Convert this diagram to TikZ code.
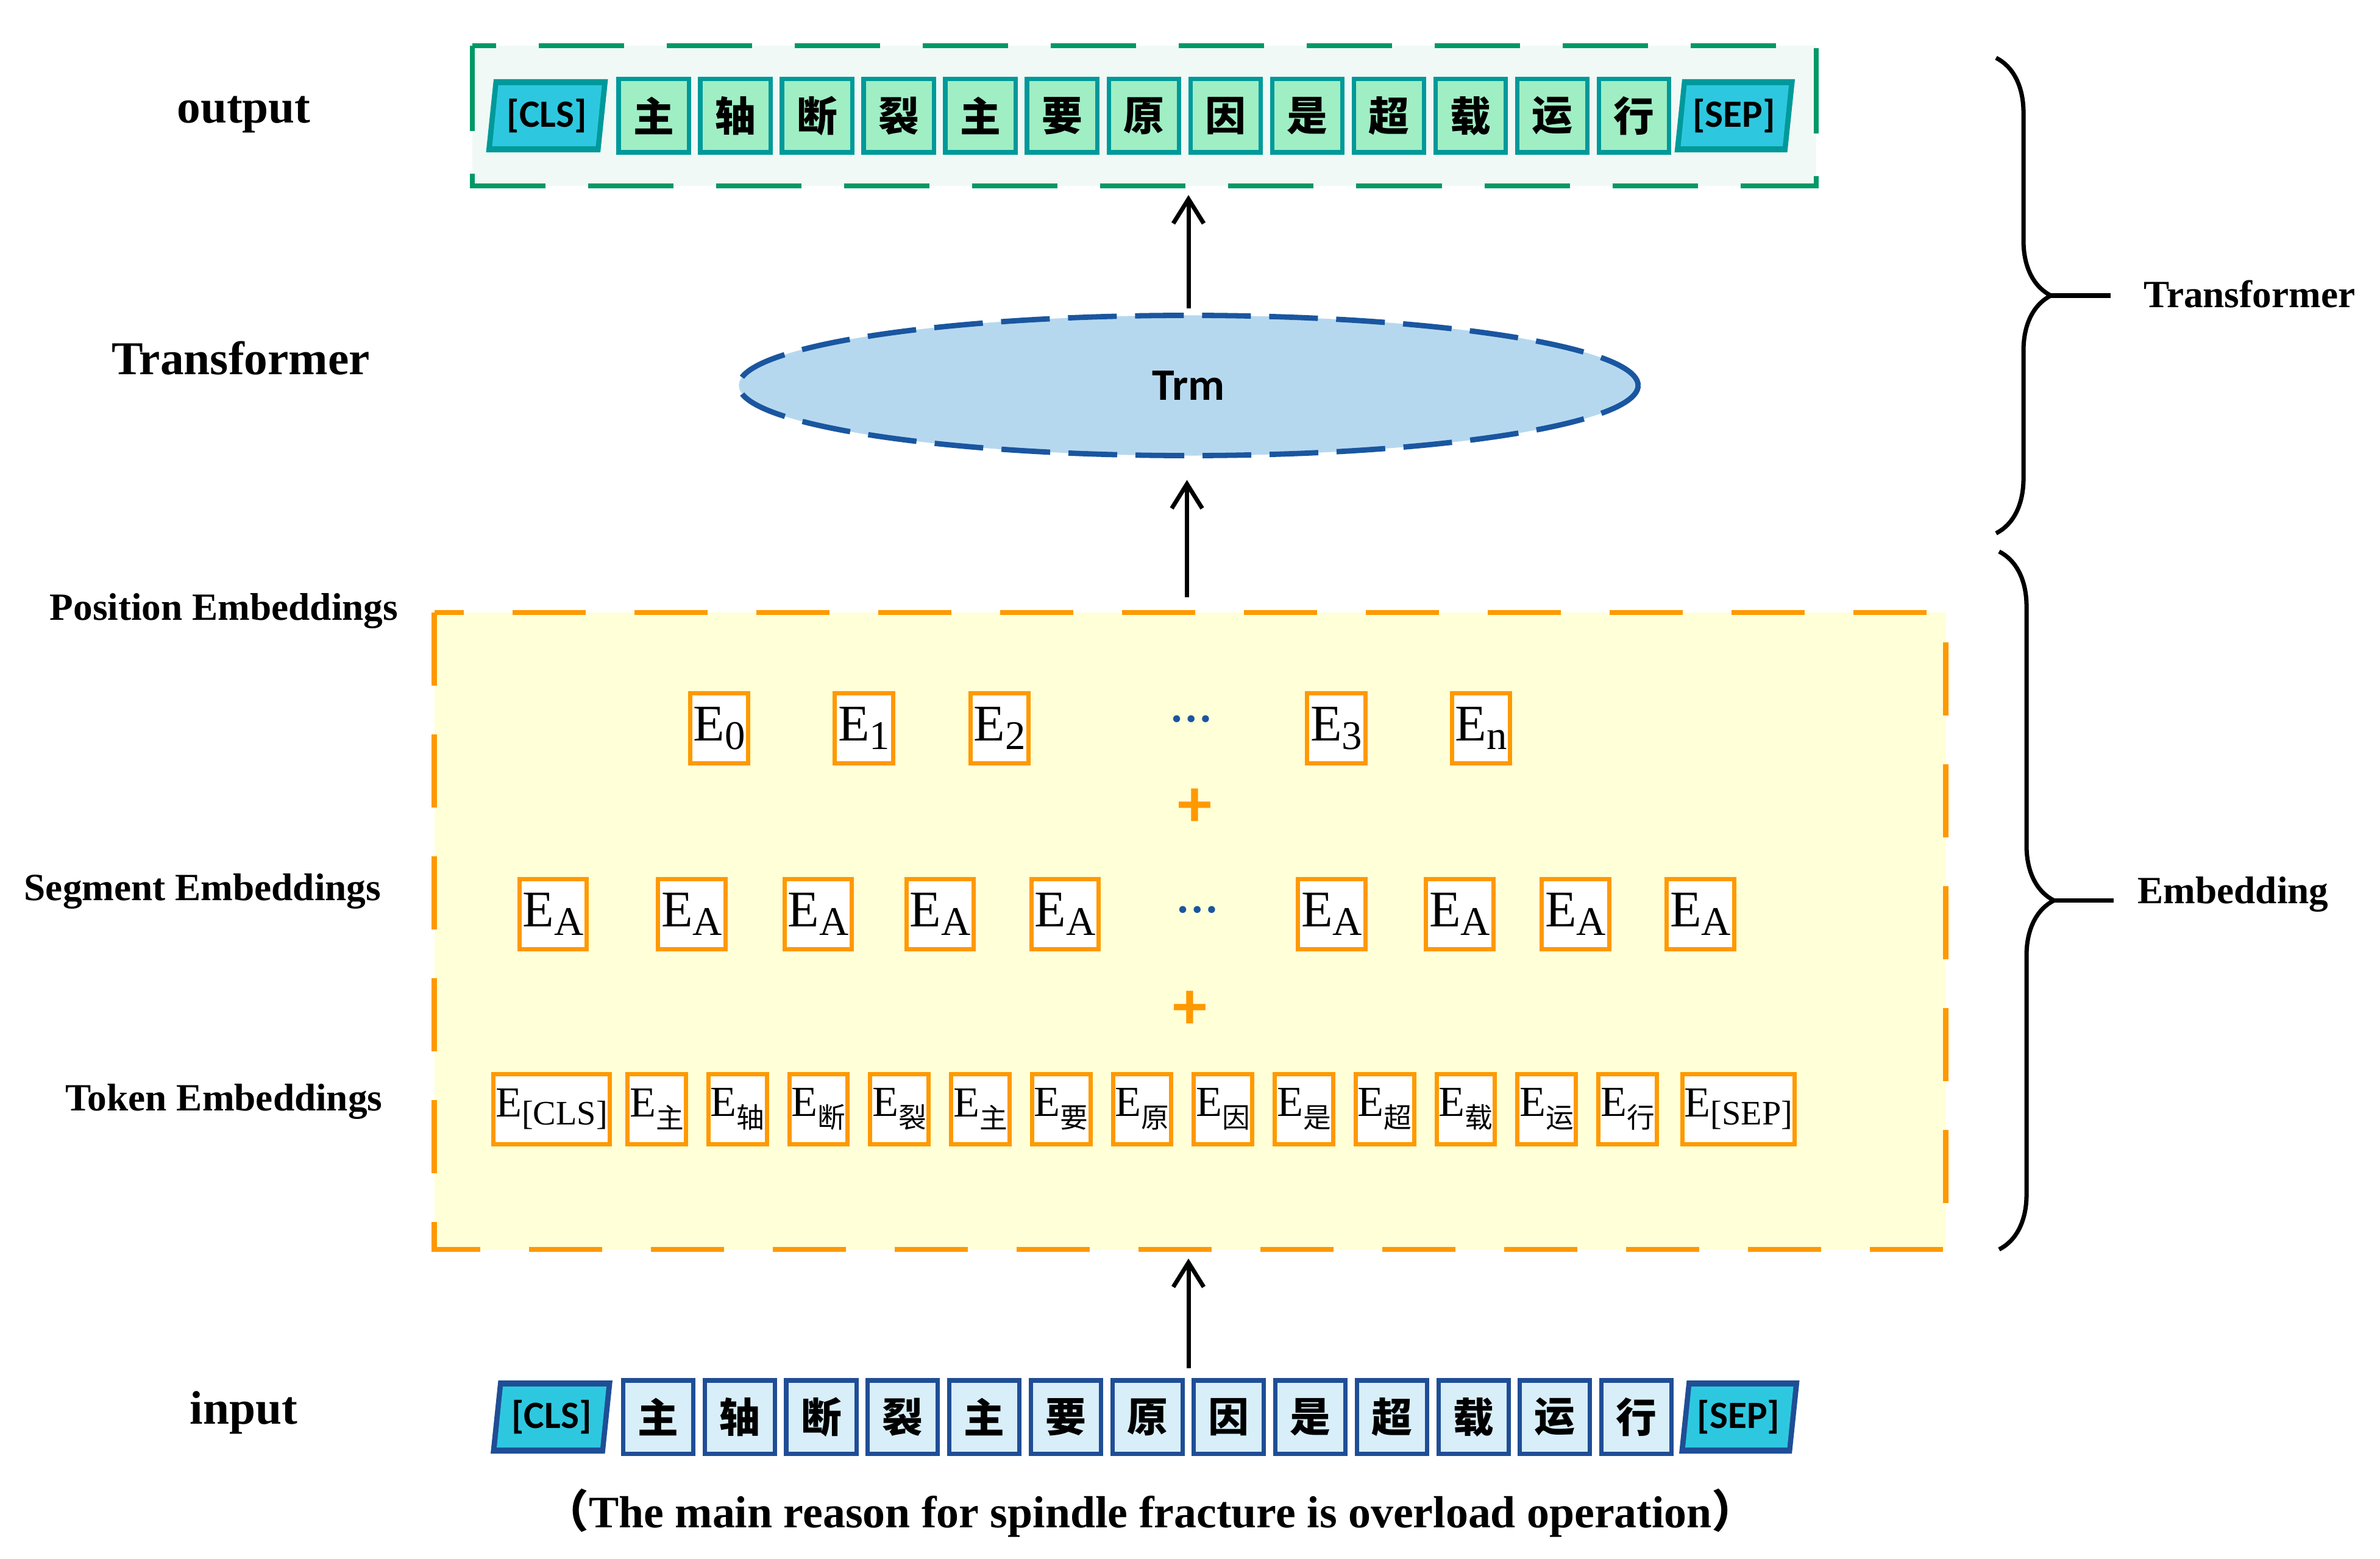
\documentclass[tikz,border=0pt]{standalone}
\usepackage{fontspec}
\setmainfont{Liberation Serif}
\newfontfamily\sansb{Carlito}[BoldFont=Carlito Bold]
\newfontfamily\cjk{Noto Sans CJK SC}
\usetikzlibrary{arrows.meta, positioning, shapes.geometric, decorations.pathreplacing}
\definecolor{dgreen}{HTML}{009966}
\definecolor{lgreen}{HTML}{A0EEC4}
\definecolor{teal}{HTML}{00999A}
\definecolor{cyanbox}{HTML}{2DC8E0}
\definecolor{navy}{HTML}{1F4E96}
\definecolor{lblue}{HTML}{D8EEF9}
\definecolor{orng}{HTML}{FF9900}
\definecolor{lyellow}{HTML}{FFFFD8}
\definecolor{ellfill}{HTML}{B6D8EF}
\definecolor{elldraw}{HTML}{1A56A0}
\begin{document}
\begin{tikzpicture}[x=0.025cm, y=-0.025cm,
    lab/.style={font=\fontsize{22}{24}\selectfont\bfseries},
    side/.style={font=\fontsize{18}{20}\selectfont\bfseries},
    outbox/.style={draw=teal, line width=2pt, fill=lgreen, minimum width=1.15cm, minimum height=1.2cm, inner sep=0pt, font=\fontsize{19}{20}\selectfont\cjk\bfseries},
    inbox/.style={outbox, draw=navy, fill=lblue},
    spec/.style={font=\fontsize{18}{19}\selectfont\sansb\bfseries},
    emb/.style={draw=orng, line width=2pt, fill=white, inner sep=1.5pt, minimum height=1.15cm},
    arr/.style={-{Straight Barb[length=4mm, width=5mm]}, line width=2pt}]
  \useasboundingbox (0,0) rectangle (1562,1023);

  % output
  \node[lab] (outlab) at (160,75) {output};
  \draw[dgreen, fill=dgreen!6, line width=2.5pt, dash pattern=on 14mm off 7mm] (310,30) rectangle (1192,122);
  \fill[teal] (324,52) -- (399,52) -- (394,100) -- (319,100) -- cycle;
  \fill[cyanbox] (327,56) -- (395,56) -- (391,96) -- (323,96) -- cycle;
  \node[spec] (outcls) at (359,76) {[CLS]};
  \foreach \c [count=\i] in {主,轴,断,裂,主,要,原,因,是,超,载,运,行}
    \node[outbox] (out\i) at ({429+(\i-1)*53.6},76) {\c};
  \fill[teal] (1104,52) -- (1178,52) -- (1173,100) -- (1099,100) -- cycle;
  \fill[cyanbox] (1107,56) -- (1174,56) -- (1170,96) -- (1103,96) -- cycle;
  \node[spec] (outsep) at (1138,76) {[SEP]};

  % transformer
  \node[lab] (trlab) at (158,235) {Transformer};
  \node[ellipse, draw=elldraw, fill=ellfill, line width=2.5pt, dash pattern=on 8mm off 3mm,
        minimum width=14.75cm, minimum height=2.3cm, font=\fontsize{21}{22}\selectfont\sansb\bfseries] (trm) at (780,253) {Trm};
  \coordinate (outbot) at (780,128);
  \draw[arr] (trm.north) ++(0,-3) -- (outbot);

  % embeddings
  \draw[orng, fill=lyellow, line width=2.5pt, dash pattern=on 12mm off 8mm] (285,402) rectangle (1277,820);
  \coordinate (embtop) at (779,402);
  \coordinate (trmbot) at (779,315);
  \draw[arr] (embtop) ++(0,-10) -- (trmbot);
  \node[side] (poslab) at (147,401) {Position Embeddings};
  \node[side] (seglab) at (133,585) {Segment Embeddings};
  \node[side] (toklab) at (147,723) {Token Embeddings};

  \foreach \x/\s [count=\i] in {472/0,567/1,656/2,877/3,972/n}
    \node[emb, font=\fontsize{24}{24}\selectfont] (pos\i) at (\x,478) {E\raisebox{-0.35ex}{\fontsize{19}{19}\selectfont\s}};
  \node[text=elldraw, font=\fontsize{20}{20}\selectfont\bfseries] (posdots) at (782,472) {\dots};
  \node[text=orng, font=\fontsize{32}{32}\selectfont\sansb\bfseries] (plus1) at (784,530) {+};

  \foreach \x [count=\i] in {363,454,537,617,699,874,958,1034,1116}
    \node[emb, font=\fontsize{24}{24}\selectfont] (seg\i) at (\x,600) {E\raisebox{-0.35ex}{\fontsize{19}{19}\selectfont A}};
  \node[text=elldraw, font=\fontsize{20}{20}\selectfont\bfseries] (segdots) at (786,597) {\dots};
  \node[text=orng, font=\fontsize{32}{32}\selectfont\sansb\bfseries] (plus2) at (781,663) {+};

  \node[emb, font=\fontsize{20}{20}\selectfont, inner sep=1pt] (tok0) at (362,728) {E\raisebox{-0.4ex}{\fontsize{16}{16}\selectfont[CLS]}};
  \foreach \c [count=\i] in {主,轴,断,裂,主,要,原,因,是,超,载,运,行}
    \node[emb, font=\fontsize{20}{20}\selectfont, inner sep=1pt] (tok\i) at ({431+(\i-1)*53.1},728) {E\raisebox{-0.6ex}{\fontsize{13}{13}\selectfont\cjk\c}};
  \node[emb, font=\fontsize{20}{20}\selectfont, inner sep=1pt] (tok14) at (1141,728) {E\raisebox{-0.4ex}{\fontsize{16}{16}\selectfont[SEP]}};

  % input
  \node[lab] (inlab) at (160,927) {input};
  \fill[navy] (327,906) -- (402,906) -- (397,954) -- (322,954) -- cycle;
  \fill[cyanbox] (330,910) -- (398,910) -- (394,950) -- (326,950) -- cycle;
  \node[spec] (incls) at (362,930) {[CLS]};
  \foreach \c [count=\i] in {主,轴,断,裂,主,要,原,因,是,超,载,运,行}
    \node[inbox] (in\i) at ({432+(\i-1)*53.5},930) {\c};
  \fill[navy] (1107,906) -- (1181,906) -- (1176,954) -- (1102,954) -- cycle;
  \fill[cyanbox] (1110,910) -- (1177,910) -- (1173,950) -- (1106,950) -- cycle;
  \node[spec] (insep) at (1141,930) {[SEP]};
  \coordinate (embbot) at (780,826);
  \draw[arr] (780,898) -- (embbot);
  \node[font=\fontsize{21}{23}\selectfont\bfseries] (caption) at (755,993) {{\cjk（}The main reason for spindle fracture is overload operation{\cjk ）}};

  % braces
  \draw[line width=2pt, decorate, decoration={brace, amplitude=0.9cm}] (1310,38) -- (1310,350);
  \draw[line width=2pt] (1346,194) -- (1385,194);
  \node[side, anchor=west] (trside) at (1402,193) {Transformer};
  \draw[line width=2pt, decorate, decoration={brace, amplitude=0.9cm}] (1312,362) -- (1312,820);
  \draw[line width=2pt] (1348,591) -- (1387,591);
  \node[side, anchor=west] (embside) at (1398,587) {Embedding};
\end{tikzpicture}
\end{document}
